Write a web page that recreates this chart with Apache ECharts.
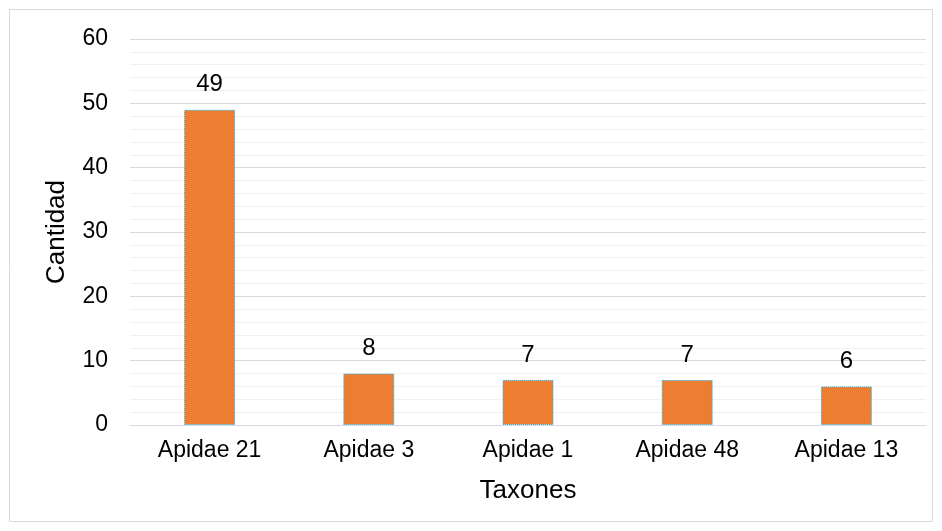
<!DOCTYPE html>
<html>
<head>
<meta charset="utf-8">
<script src="https://cdn.jsdelivr.net/npm/echarts@6/dist/echarts.min.js"></script>
<style>
  html, body { margin: 0; padding: 0; background: #fff; }
  #chart { width: 942px; height: 531px; }
</style>
</head>
<body>
<div id="chart"></div>
<script>
  // values
  const categories = ['Apidae 21', 'Apidae 3', 'Apidae 1', 'Apidae 48', 'Apidae 13']
  const counts = [49, 8, 7, 7, 6]
  const yTicks = { min: 0, max: 60, interval: 10 }

  const font = '"Liberation Sans", Arial, sans-serif'
  const chart = echarts.init(document.getElementById('chart'))

  const option = {
    animation: false,
    graphic: [{
      type: 'rect',
      shape: { x: 9.5, y: 9.5, width: 923, height: 512 },
      style: { fill: 'none', stroke: '#d9d9d9', lineWidth: 1 },
      silent: true
    }],
    grid: { left: 130, right: 16, top: 39, bottom: 106, containLabel: false },
    xAxis: {
      type: 'category',
      data: categories,
      name: 'Taxones',
      nameLocation: 'middle',
      nameGap: 53,
      nameTextStyle: { fontFamily: font, fontSize: 26, color: '#000' },
      axisTick: { show: false },
      axisLine: { lineStyle: { color: '#d9d9d9', width: 1 } },
      axisLabel: { fontFamily: font, fontSize: 23, color: '#000', margin: 14 }
    },
    yAxis: {
      type: 'value',
      min: yTicks.min,
      max: yTicks.max,
      interval: yTicks.interval,
      name: 'Cantidad',
      nameLocation: 'middle',
      nameGap: 60,
      nameTextStyle: { fontFamily: font, fontSize: 26, color: '#000' },
      axisLine: { show: false },
      axisTick: { show: false },
      axisLabel: { fontFamily: font, fontSize: 23, color: '#000', margin: 22 },
      splitLine: { lineStyle: { color: '#d9d9d9', width: 1 } },
      minorTick: { show: false, splitNumber: 5 },
      minorSplitLine: { show: true, lineStyle: { color: '#f0f0f0', width: 1 } }
    },
    series: [{
      type: 'bar',
      data: counts,
      barWidth: 51,
      itemStyle: {
        color: '#ed7d31',
        borderColor: '#1fb2ee',
        borderWidth: 1,
        borderType: 'dotted'
      },
      label: {
        show: true,
        position: 'top',
        distance: 13,
        fontFamily: font,
        fontSize: 24,
        color: '#000'
      }
    }]
  }

  chart.setOption(option)
</script>
</body>
</html>
